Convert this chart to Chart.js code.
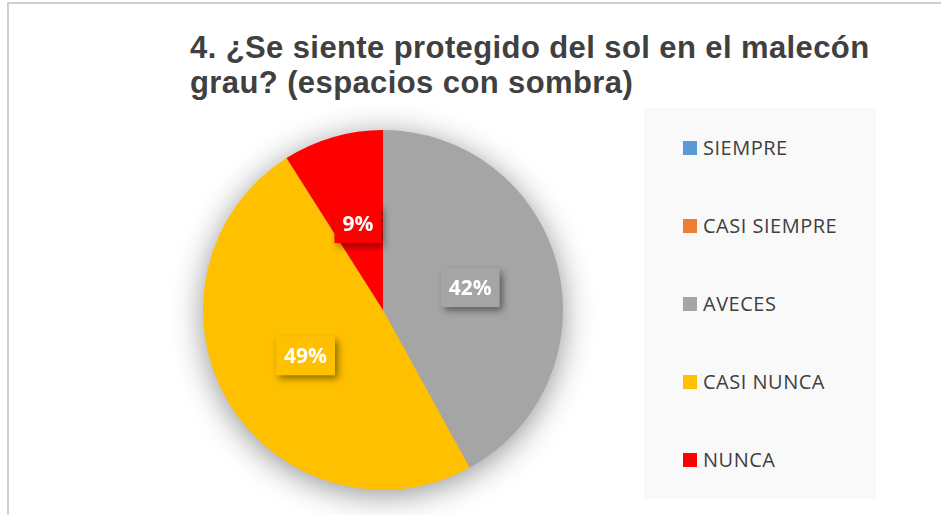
<!DOCTYPE html>
<html>
<head>
<meta charset="utf-8">
<script src="https://cdn.jsdelivr.net/npm/chart.js@4.4.1/dist/chart.umd.min.js"></script>
<style>
  body { margin: 0; background: #fff; }
  #wrap { position: relative; width: 941px; height: 515px; overflow: hidden; }
  #frame { position: absolute; left: 7px; top: 2px; width: 950px; height: 530px; border: 2px solid #d0d0d0; box-sizing: border-box; }
  #title { position: absolute; left: 190px; top: 30px; font: bold 31px "Liberation Sans", Arial, sans-serif; letter-spacing: 0.4px; line-height: 35px; color: #404040; white-space: nowrap; }
  #legend { position: absolute; left: 644px; top: 108px; width: 232px; height: 391px; background: #f9f9f9; }
  .item { position: absolute; left: 39px; height: 22px; font: 20px "Open Sans", sans-serif; letter-spacing: 0.5px; color: #404040; white-space: nowrap; line-height: 22px; }
  .item span { display: inline-block; width: 14px; height: 14px; margin-right: 6px; vertical-align: 0; }
  canvas { position: absolute; left: 0; top: 0; }
</style>
</head>
<body>
<div id="wrap">
  <div id="frame"></div>
  <div id="title">4. ¿Se siente protegido del sol en el malecón<br>grau? (espacios con sombra)</div>
  <div id="legend"></div>
  <canvas id="myChart" width="941" height="515"></canvas>
</div>
<script>
const categories = ['SIEMPRE', 'CASI SIEMPRE', 'AVECES', 'CASI NUNCA', 'NUNCA'];
const percents = [0, 0, 42, 49, 9];
const colors = ['#5b9bd5', '#ed7d31', '#a5a5a5', '#ffc000', '#ff0000'];

// soft shadow under the whole pie
const pieShadow = {
    id: 'pieShadow',
    beforeDatasetsDraw(chart) {
        const arc = chart.getDatasetMeta(0).data[0];
        const c = chart.ctx;
        c.save();
        c.shadowColor = 'rgba(0,0,0,0.45)';
        c.shadowBlur = 32;
        c.shadowOffsetY = 5;
        c.fillStyle = '#a5a5a5';
        c.beginPath();
        c.arc(arc.x, arc.y, arc.outerRadius - 1, 0, Math.PI * 2);
        c.fill();
        c.restore();
    }
};

// boxed percentage labels like excel
const boxLabels = {
    id: 'boxLabels',
    afterDatasetsDraw(chart) {
        const c = chart.ctx;
        const ds = chart.data.datasets[0];
        chart.getDatasetMeta(0).data.forEach((arc, i) => {
            if (!ds.data[i]) return;
            const p = arc.tooltipPosition();
            const txt = ds.data[i] + '%';
            c.save();
            c.font = 'bold 21px "Open Sans", sans-serif';
            const w = c.measureText(txt).width + 16;
            const h = 39;
            c.shadowColor = 'rgba(0,0,0,0.45)';
            c.shadowBlur = 7;
            c.shadowOffsetX = 3;
            c.shadowOffsetY = 4;
            c.fillStyle = ds.backgroundColor[i];
            c.fillRect(p.x - w / 2, p.y - h / 2, w, h);
            c.shadowColor = 'transparent';
            c.fillStyle = '#fff';
            c.textAlign = 'center';
            c.textBaseline = 'middle';
            c.fillText(txt, p.x, p.y + 1);
            c.restore();
        });
    }
};

const ctx = document.getElementById('myChart');

new Chart(ctx, {
    type: 'pie',
    data: {
        labels: categories,
        datasets: [{
            data: percents,
            backgroundColor: colors,
            borderWidth: 0,
            hoverOffset: 0
        }]
    },
    options: {
        responsive: false,
        animation: false,
        layout: {
            padding: { left: 203, right: 378, top: 130, bottom: 25 }
        },
        plugins: {
            legend: { display: false },
            title: { display: false },
            tooltip: { enabled: false }
        }
    },
    plugins: [pieShadow, boxLabels]
});

// legend box on the right
const legend = document.getElementById('legend');
categories.forEach((name, i) => {
    const div = document.createElement('div');
    div.className = 'item';
    div.style.top = (28.5 + i * 78) + 'px';
    div.innerHTML = '<span style="background:' + colors[i] + '"></span>' + name;
    legend.appendChild(div);
});
</script>
</body>
</html>
